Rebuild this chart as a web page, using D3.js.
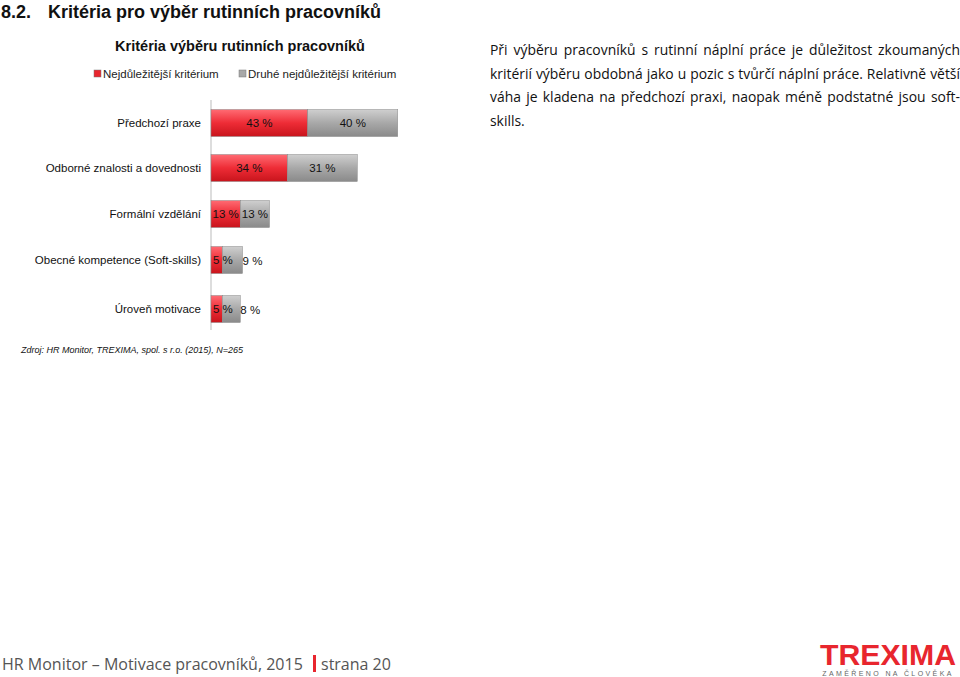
<!DOCTYPE html>
<html><head><meta charset="utf-8">
<script src="https://cdn.jsdelivr.net/npm/d3@7"></script>
<style>
body{margin:0;background:#fff;font-family:"Liberation Sans",Arial,sans-serif;}
#txt{position:absolute;left:490px;top:38px;width:470px;font-family:"Open Sans","DejaVu Sans",sans-serif;font-size:13.9px;line-height:23.5px;text-align:justify;color:#111;}
</style></head><body>
<svg id="c" width="960" height="677" style="position:absolute;left:0;top:0"></svg>
<div id="txt">Při výběru pracovníků s rutinní náplní práce je důležitost zkoumaných kritérií výběru obdobná jako u pozic s tvůrčí náplní práce. Relativně větší váha je kladena na předchozí praxi, naopak méně podstatné jsou soft-skills.</div>
<script>
// data
var categories = ["Předchozí praxe","Odborné znalosti a dovednosti","Formální vzdělání","Obecné kompetence (Soft-skills)","Úroveň motivace"];
var first = [43,34,13,5,5];
var second = [40,31,13,9,8];
var seriesNames = ["Nejdůležitější kritérium","Druhé nejdůležitější kritérium"];
var rowY = [123,168,214,260,309];

var svg = d3.select("#c");
var defs = svg.append("defs");
function grad(id, c1, c2, c3){
  var g = defs.append("linearGradient").attr("id",id).attr("x1",0).attr("y1",0).attr("x2",0).attr("y2",1);
  g.append("stop").attr("offset","0%").attr("stop-color",c1);
  g.append("stop").attr("offset","50%").attr("stop-color",c2);
  g.append("stop").attr("offset","100%").attr("stop-color",c3);
}
grad("gr","#ff6b73","#ee2c36","#c8141c");
grad("gg","#cfcfcf","#a8a8a8","#8a8a8a");

svg.append("text").attr("x",1).attr("y",18).attr("font-size",18).attr("font-weight","bold").attr("fill","#111").text("8.2.");
svg.append("text").attr("x",48).attr("y",18).attr("font-size",18).attr("font-weight","bold").attr("fill","#111").text("Kritéria pro výběr rutinních pracovníků");
svg.append("text").attr("x",240).attr("y",51).attr("text-anchor","middle").attr("font-size",14.5).attr("font-weight","bold").attr("fill","#111").text("Kritéria výběru rutinních pracovníků");

// legend
var lg = [[94,"#e8262e"],[239,"#a8a8a8"]];
lg.forEach(function(l,i){
  svg.append("rect").attr("x",l[0]).attr("y",70).attr("width",7).attr("height",7).attr("fill",l[1]).attr("stroke","#777").attr("stroke-width",0.5);
  svg.append("text").attr("x",l[0]+9).attr("y",78).attr("font-size",11.5).attr("fill","#222").text(seriesNames[i]);
});

var x = d3.scaleLinear().domain([0,100]).range([211,436]);
var bh = 27;
svg.append("line").attr("x1",211).attr("x2",211).attr("y1",100).attr("y2",330).attr("stroke","#bbb");

categories.forEach(function(c,i){
  var y = rowY[i];
  svg.append("text").attr("x",201).attr("y",y+4).attr("text-anchor","end").attr("font-size",11.5).attr("fill","#111").text(c);
  var x0 = x(0), x1 = x(first[i]), x2 = x(first[i]+second[i]);
  svg.append("rect").attr("x",x0).attr("y",y-bh/2).attr("width",x1-x0).attr("height",bh).attr("fill","url(#gr)").attr("stroke","#888").attr("stroke-width",0.5);
  svg.append("rect").attr("x",x1).attr("y",y-bh/2).attr("width",x2-x1).attr("height",bh).attr("fill","url(#gg)").attr("stroke","#888").attr("stroke-width",0.5);
  var small = first[i] < 10;
  svg.append("text").attr("x",small ? x0+2 : (x0+x1)/2).attr("y",y+4).attr("text-anchor",small?"start":"middle").attr("font-size",11.5).attr("fill","#111").text(first[i]+" %");
  svg.append("text").attr("x",small ? x2+10 : (x1+x2)/2).attr("y",y+(small?5:4)).attr("text-anchor","middle").attr("font-size",11.5).attr("fill","#111").text(second[i]+" %");
});

svg.append("text").attr("x",21).attr("y",353).attr("font-size",9).attr("font-style","italic").attr("fill","#111").text("Zdroj: HR  Monitor, TREXIMA, spol. s r.o.  (2015), N=265");

// footer
svg.append("text").attr("x",2).attr("y",670).attr("font-family","'Open Sans',sans-serif").attr("font-size",16).attr("fill","#555").text("HR Monitor – Motivace pracovníků, 2015");
svg.append("rect").attr("x",313).attr("y",655).attr("width",3).attr("height",17).attr("fill","#e8262e");
svg.append("text").attr("x",321).attr("y",670).attr("font-family","'Open Sans',sans-serif").attr("font-size",16).attr("fill","#555").text("strana 20");
svg.append("text").attr("x",888).attr("y",665).attr("text-anchor","middle").attr("font-size",29).attr("font-weight","bold").attr("fill","#e8262e").attr("textLength",136).attr("lengthAdjust","spacingAndGlyphs").text("TREXIMA");
svg.append("text").attr("x",888).attr("y",676).attr("text-anchor","middle").attr("font-size",7).attr("letter-spacing",2.4).attr("fill","#666").text("ZAMĚŘENO NA ČLOVĚKA");
</script>
</body></html>
